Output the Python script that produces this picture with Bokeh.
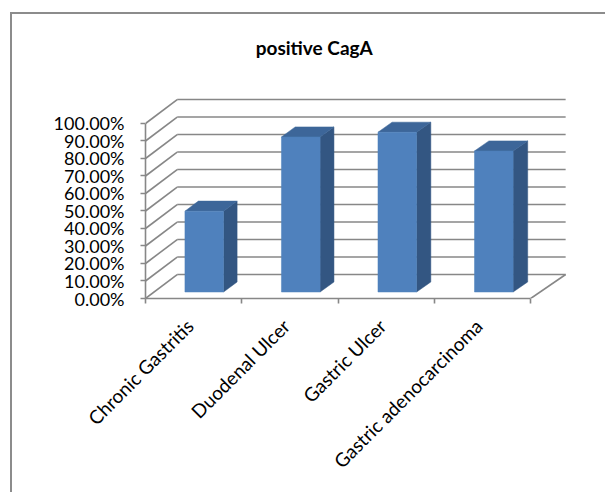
import math

from bokeh.embed import file_html
from bokeh.models import FixedTicker, Label, LinearAxis, NumeralTickFormatter, Range1d
from bokeh.plotting import figure
from bokeh.resources import INLINE

# ---- data -------------------------------------------------------------
categories = ["Chronic Gastritis", "Duodenal Ulcer", "Gastric Ulcer", "Gastric adenocarcinoma"]
cag_a_positive = [0.462, 0.886, 0.913, 0.806]
y_ticks = [0.0, 0.1, 0.2, 0.3, 0.4, 0.5, 0.6, 0.7, 0.8, 0.9, 1.0]
chart_title = "positive CagA"

# ---- 3-D look: oblique depth offsets in data units --------------------
DEPTH_X_LEFT = 0.329     # horizontal depth shift at the left wall
DEPTH_X_RIGHT = 0.363    # horizontal depth shift at the right edge
DEPTH_Y = 0.137          # vertical depth shift
BAR_FRONT, BAR_BACK = 0.27, 0.69     # bar depth slice (fraction of full depth)
BAR_LEFT, BAR_RIGHT = 0.32, 0.72     # bar extent inside its category slot
LABEL_SHIFT = 0.04                   # pulls rotated category labels onto their slot centre

n = len(categories)
FONT = "Lato"
GRID = "#878787"


def depth_x(x):
    return DEPTH_X_LEFT + (DEPTH_X_RIGHT - DEPTH_X_LEFT) * x / n


def proj(x, y, d):
    """Project a point (x, y) at depth d (0 = front, 1 = back wall)."""
    return x + d * depth_x(x), y + d * DEPTH_Y


# the plot area reaches up to the title so the title can live inside it
p = figure(
    width=595, height=480,
    min_border_left=133, min_border_right=38, min_border_top=16, min_border_bottom=196,
    x_range=Range1d(0, 4.403), y_range=Range1d(0, 1.5314),
    x_axis_type=None, y_axis_type=None,
    output_backend="svg", toolbar_location=None,
)
p.margin = (12, 0, 0, 10)
p.styles = {"border-top": "2px solid #8C8C8C", "border-left": "2px solid #8C8C8C"}
p.outline_line_color = None
p.background_fill_color = "white"
p.border_fill_color = "white"

# ---- title ---------------------------------------------------------------
p.add_layout(Label(
    x=1.752, y=1.434, text=chart_title, text_align="center", text_baseline="middle",
    text_font=FONT, text_font_style="bold", text_font_size="19px", text_color="black",
))

# ---- walls and floor ---------------------------------------------------
wall_xs, wall_ys = [], []
for v in y_ticks:
    bx0, by = proj(0, v, 1)
    bx1, _ = proj(n, v, 1)
    wall_xs.append([bx0, bx1])          # back wall gridline
    wall_ys.append([by, by])
    wall_xs.append([0, bx0])            # side wall gridline
    wall_ys.append([v, by])
fx, fy = proj(n, 0, 1)
wall_xs.append([n, fx])                 # right edge of the floor
wall_ys.append([0, fy])
p.multi_line(wall_xs, wall_ys, line_color=GRID, line_width=1.6)

# ---- bars ---------------------------------------------------------------
front_xs, front_ys, side_xs, side_ys, top_xs, top_ys = [], [], [], [], [], []
for i, v in enumerate(cag_a_positive):
    x0, x1 = i + BAR_LEFT, i + BAR_RIGHT
    a = proj(x0, 0, BAR_FRONT); b = proj(x1, 0, BAR_FRONT)
    c = proj(x1, v, BAR_FRONT); d = proj(x0, v, BAR_FRONT)
    e = proj(x1, 0, BAR_BACK); f = proj(x1, v, BAR_BACK); g = proj(x0, v, BAR_BACK)
    front_xs.append([a[0], b[0], c[0], d[0]]); front_ys.append([a[1], b[1], c[1], d[1]])
    side_xs.append([b[0], e[0], f[0], c[0]]); side_ys.append([b[1], e[1], f[1], c[1]])
    top_xs.append([d[0], c[0], f[0], g[0]]); top_ys.append([d[1], c[1], f[1], g[1]])

p.patches(side_xs, side_ys, fill_color="#335682", line_color="#335682", line_width=0.5)
p.patches(top_xs, top_ys, fill_color="#3D6699", line_color="#3D6699", line_width=0.5)
p.patches(front_xs, front_ys, fill_color="#4F81BD", line_color="#4F81BD", line_width=0.5)

# ---- axes ---------------------------------------------------------------
yaxis = LinearAxis(
    ticker=FixedTicker(ticks=y_ticks),
    formatter=NumeralTickFormatter(format="0.00%"),
    bounds=(0, 1),
    axis_line_color=GRID, axis_line_width=1.6,
    major_tick_line_color=GRID, major_tick_line_width=1.6,
    major_tick_in=0, major_tick_out=5,
    minor_tick_line_color=None,
    major_label_text_font=FONT, major_label_text_font_size="18px",
    major_label_text_color="black", major_label_standoff=16,
)
p.add_layout(yaxis, "left")

label_pos = [i + 0.5 - LABEL_SHIFT for i in range(n)]
slot_edges = [float(i) for i in range(n + 1)]
xaxis = LinearAxis(
    ticker=FixedTicker(ticks=label_pos, minor_ticks=slot_edges),
    major_label_overrides={c: name for c, name in zip(label_pos, categories)},
    bounds=(0, n),
    axis_line_color=GRID, axis_line_width=1.6,
    major_tick_line_color=None,
    minor_tick_line_color=GRID, minor_tick_line_width=1.6,
    minor_tick_in=0, minor_tick_out=5,
    major_label_orientation=math.pi / 4,
    major_label_text_font=FONT, major_label_text_font_size="19px",
    major_label_text_color="black", major_label_standoff=18,
)
p.add_layout(xaxis, "below")

open("out.html", "w").write(file_html(p, INLINE))
